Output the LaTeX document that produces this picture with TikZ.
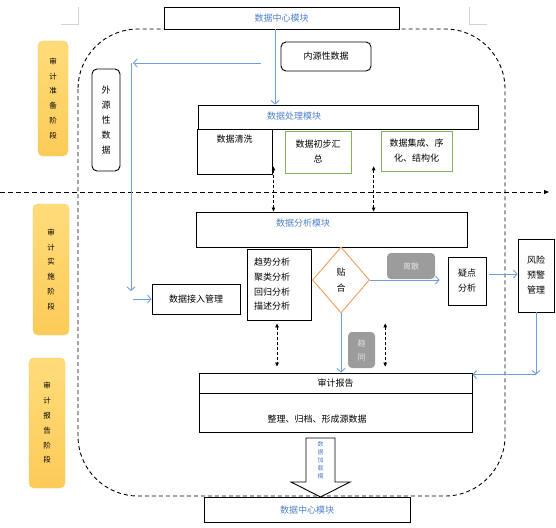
\documentclass[tikz,border=0pt]{standalone}
\usepackage{fontspec}
\setmainfont{Noto Sans CJK SC}
\usetikzlibrary{shapes.geometric,arrows.meta}

\definecolor{flowblue}{HTML}{6F9FD8}
\definecolor{labelblue}{HTML}{4F81C9}
\definecolor{boxgreen}{HTML}{86B35A}
\definecolor{fitorange}{HTML}{EE9F5C}
\definecolor{tagfill}{HTML}{9C9C9C}
\definecolor{tagtext}{HTML}{E2E2E2}
\definecolor{phasetop}{HTML}{FFDC7A}
\definecolor{phasebot}{HTML}{FCCB58}

\tikzset{
	box/.style={draw, line width=0.9pt, fill=white, inner sep=0pt, align=center, font=\fontsize{9}{15}\selectfont},
	greenbox/.style={box, draw=boxgreen, line width=0.7pt},
	phase/.style={rounded corners=5pt, draw=phasebot, top color=phasetop, bottom color=phasebot, inner sep=0pt, align=center, font=\fontsize{7.5}{14.8}\selectfont},
	tag/.style={rounded corners=4pt, fill=tagfill, text=tagtext, inner sep=0pt, align=center, font=\fontsize{8}{14}\selectfont},
	modtitle/.style={text=labelblue, inner sep=0pt, font=\fontsize{9}{11}\selectfont},
	flow/.style={draw=flowblue, line width=0.9pt, -{Straight Barb[length=3.5pt,width=8pt]}},
	dbl/.style={line width=0.8pt, dash pattern=on 3pt off 2pt, {Triangle[length=4pt,width=3.5pt]}-{Triangle[length=4pt,width=3.5pt]}}
}

\begin{document}
\begin{tikzpicture}[x=1pt,y=-1pt]
	\useasboundingbox (0,0) rectangle (556,527);
	%Divider between preparation and the rest
	\pgfmathsetmacro{\ydiv}{192}
	\pgfmathsetmacro{\rc}{60}

	%Page corner marks
	\draw[gray!35, line width=0.8pt] (61,24) -- (78,24) -- (78,7);
	\draw[gray!35, line width=0.8pt] (487,24) -- (469,24) -- (469,7);

	%The dashed frame and the dashed divider
	\draw[line width=0.9pt, dash pattern=on 4pt off 3pt, rounded corners=\rc pt] (78,29) rectangle (505,496);
	\draw[line width=1pt, dash pattern=on 5pt off 3pt, -{Triangle[length=5pt,width=4pt]}] (0,\ydiv) -- (549,\ydiv);

	%Phases on the left
	\node[phase, minimum width=30pt, minimum height=115pt] (prep) at (53,98.5) {审\\计\\准\\备\\阶\\段};
	\node[phase, minimum width=36pt, minimum height=131pt] (exec) at (51,269.5) {审\\计\\实\\施\\阶\\段};
	\node[phase, minimum width=36pt, minimum height=130pt] (rept) at (47,423) {审\\计\\报\\告\\阶\\段};

	%Data centre (top) and the sources
	\node[box, minimum width=235pt, minimum height=22pt] (dcT) at (281.5,18) {};
	\node[modtitle] (dcTtitle) at (281.5,18) {数据中心模块};
	\node[box, rounded corners=5pt, minimum width=90pt, minimum height=29pt] (inner) at (326,56.5) {内源性数据};
	\node[box, rounded corners=5pt, minimum width=28pt, minimum height=102pt] (outer) at (106,120) {外\\源\\性\\数\\据};

	%Processing module
	\node[box, minimum width=280pt, minimum height=24pt] (proc) at (338,117) {};
	\node[modtitle] (proctitle) at (294,116) {数据处理模块};
	\node[box, minimum width=75pt, minimum height=45pt, label={[anchor=north, inner sep=0pt, yshift=-6pt, font=\fontsize{9}{11}\selectfont]north:数据清洗}] (clean) at (234.5,151.5) {};
	\node[greenbox, minimum width=66pt, minimum height=42pt] (summ) at (318,152) {数据初步汇\\总};
	\node[greenbox, minimum width=71pt, minimum height=40pt] (integ) at (416.5,151) {数据集成、序\\化、结构化};

	%Analysis module
	\node[box, minimum width=271pt, minimum height=35pt] (ana) at (331.5,229.5) {};
	\node[modtitle] (anatitle) at (303,223) {数据分析模块};
	\node[box, minimum width=88pt, minimum height=30pt] (access) at (196,299) {数据接入管理};
	\node[box, minimum width=64pt, minimum height=71pt, text width=50pt, align=left, font=\fontsize{9}{14.7}\selectfont] (list) at (279,284.5) {趋势分析\\聚类分析\\回归分析\\描述分析};
	\node[diamond, draw=fitorange, line width=0.9pt, fill=white, minimum width=57pt, minimum height=66pt, inner sep=0pt, align=center, font=\fontsize{9}{16}\selectfont] (fit) at (341,280) {贴\\合};
	\node[tag, minimum width=48pt, minimum height=26pt] (tagA) at (411,266) {离散};
	\node[tag, minimum width=27pt, minimum height=36pt] (tagB) at (361.5,350) {趋\\同};
	\node[box, minimum width=38pt, minimum height=48pt] (doubt) at (467,281) {疑点\\分析};
	\node[box, minimum width=36pt, minimum height=73pt] (risk) at (536,275.5) {风险\\预警\\管理};

	%Report
	\node[box, minimum width=273pt, minimum height=20pt] (report) at (335.5,383) {审计报告};
	\node[box, minimum width=273pt, minimum height=39pt] (arrange) at (335.5,412.5) {};
	\node[inner sep=0pt, font=\fontsize{9}{11}\selectfont] (arrangetext) at (317,419) {整理、归档、形成源数据};

	%Data centre (bottom) and the load arrow
	\node[box, minimum width=206pt, minimum height=25pt] (dcB) at (307,509.5) {};
	\node[modtitle] (dcBtitle) at (307,510) {数据中心模块};
	\draw[line width=0.9pt, fill=white] (306,438) -- (335,438) -- (335,482) -- (350,482) -- (320.5,497) -- (291,482) -- (306,482) -- cycle;
	\node[text=labelblue, inner sep=0pt, align=center, font=\fontsize{6}{8}\selectfont] (loadtext) at (320.5,460) {数\\据\\加\\载\\模};

	%Blue flows
	\coordinate (extS) at (261,63);
	\coordinate (extT) at (133,63);
	\coordinate (extB) at (131,291);
	\coordinate (riskC) at ([yshift=-2pt]risk.south |- report.north);
	\draw[flow] ([xshift=-6.5pt]dcT.south) -- ([xshift=-6.5pt]dcT.south |- proc.north);
	\draw[flow] (extS) -- (extT);
	\draw[flow] ([xshift=-2pt]extT) -- (extB);
	\draw[flow] ([xshift=-19pt]access.west) -- (access.west);
	\draw[flow] (fit.south) -- (fit.south |- report.north);
	\draw[flow, shorten >=8pt] (fit.east) -- (fit.east -| doubt.west);
	\draw[flow, shorten <=3pt] ([yshift=7pt]doubt.east) -- ([yshift=7pt]doubt.east -| risk.west);
	\draw[flow] (risk.south) -- (riskC);
	\draw[flow] (riskC) -- (riskC -| report.east);

	%Dashed links both ways
	\coordinate (linkA) at ([xshift=1pt,yshift=8pt]clean.south east);
	\coordinate (linkB) at ([xshift=-7pt,yshift=5pt]integ.south west);
	\coordinate (linkC) at ([xshift=-2pt,yshift=-3pt]list.south);
	\coordinate (linkD) at ([xshift=10pt]tagB.east |- linkC);
	\draw[dbl] (linkA) -- (linkA |- ana.north);
	\draw[dbl] (linkB) -- (linkB |- ana.north);
	\draw[dbl] (linkC) -- ([yshift=6pt]linkC |- report.north);
	\draw[dbl] (linkD) -- ([yshift=6pt]linkD |- report.north);

\end{tikzpicture}
\end{document}
